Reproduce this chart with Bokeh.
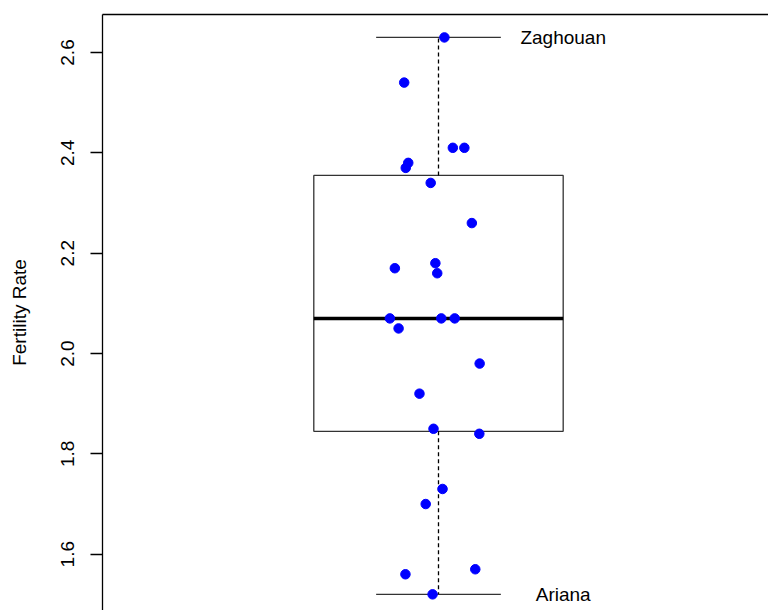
import numpy as np
from bokeh.plotting import figure
from bokeh.models import Range1d, FixedTicker, LinearAxis, PrintfTickFormatter
from bokeh.embed import file_html
from bokeh.resources import INLINE
from bokeh.core.properties import value

# ---- data ----
fertility = [2.63, 2.54, 2.41, 2.41, 2.38, 2.37, 2.34, 2.26, 2.18, 2.17, 2.16,
             2.07, 2.07, 2.07, 2.05, 1.98, 1.92, 1.85, 1.84, 1.73, 1.70, 1.57,
             1.56, 1.52]
jitter_x = [1.019, 0.890, 1.046, 1.083, 0.903, 0.895, 0.975, 1.107, 0.990, 0.860,
            0.996, 0.844, 1.009, 1.052, 0.872, 1.132, 0.939, 0.984, 1.131, 1.013,
            0.959, 1.118, 0.894, 0.981]
label_names = ["Zaghouan", "Ariana"]
label_values = [2.63, 1.52]
y_ticks = [1.6, 1.8, 2.0, 2.2, 2.4, 2.6]
y_label = "Fertility Rate"

# ---- box statistics (Tukey hinges, like R's boxplot) ----
xs = np.sort(np.array(fertility))
n = len(xs)
n4 = np.floor((n + 3) / 2) / 2
d = np.array([1, n4, (n + 1) / 2, n + 1 - n4, n])
five = 0.5 * (xs[np.floor(d).astype(int) - 1] + xs[np.ceil(d).astype(int) - 1])
q1, med, q3 = five[1], five[2], five[3]
iqr = q3 - q1
lo_w = xs[xs >= q1 - 1.5 * iqr].min()
hi_w = xs[xs <= q3 + 1.5 * iqr].max()

FONT = "Liberation Sans"
FS = "19px"

p = figure(width=768, height=610, output_backend="svg", toolbar_location=None,
           x_range=Range1d(-0.0778, 2.0586), y_range=Range1d(1.4878, 2.6757),
           x_axis_location=None, min_border_left=102, min_border_right=0,
           min_border_top=14, min_border_bottom=0)
p.outline_line_color = None
p.xgrid.visible = False
p.ygrid.visible = False
p.background_fill_color = "white"
p.border_fill_color = "white"

ax = p.yaxis[0]
ax.ticker = FixedTicker(ticks=y_ticks)
ax.formatter = PrintfTickFormatter(format="%.1f")
ax.major_label_orientation = "vertical"
ax.minor_tick_line_color = None
ax.major_tick_in = 0
ax.major_tick_out = 12
ax.major_tick_line_width = 1.3
ax.axis_line_width = 1.3
ax.axis_line_color = "black"
ax.major_tick_line_color = "black"
ax.major_label_text_font = FONT
ax.major_label_text_font_size = FS
ax.major_label_text_color = "black"
ax.major_label_standoff = 16
ax.axis_label = y_label
ax.axis_label_text_font = FONT
ax.axis_label_text_font_size = FS
ax.axis_label_text_font_style = "normal"
ax.axis_label_text_color = "black"
ax.axis_label_standoff = 29

top = LinearAxis(ticker=FixedTicker(ticks=[]), major_tick_out=0, major_tick_in=0,
                 major_label_standoff=0, axis_line_width=1.3, axis_line_color="black",
                 minor_tick_line_color=None)
p.add_layout(top, "above")

# box
p.quad(left=[0.6], right=[1.4], bottom=[q1], top=[q3], fill_color=None,
       line_color="#333333", line_width=1.3)
# whiskers
p.segment(x0=[1, 1], y0=[q3, q1], x1=[1, 1], y1=[hi_w, lo_w],
          line_color="black", line_width=1.3, line_dash="4 3")
p.segment(x0=[0.8, 0.8], y0=[hi_w, lo_w], x1=[1.2, 1.2], y1=[hi_w, lo_w],
          line_color="#333333", line_width=1.3)
# median
p.segment(x0=[0.6], y0=[med], x1=[1.4], y1=[med], line_color="black", line_width=3.5)

# points
p.scatter(jitter_x, fertility, size=9.5, fill_color="blue", line_color="blue")

# labels
p.text(x=[1.4, 1.4], y=label_values, text=label_names, text_align="center",
       text_baseline="middle", text_font=value(FONT), text_font_size=FS,
       text_color="black")

open("out.html", "w").write(file_html(p, INLINE))
